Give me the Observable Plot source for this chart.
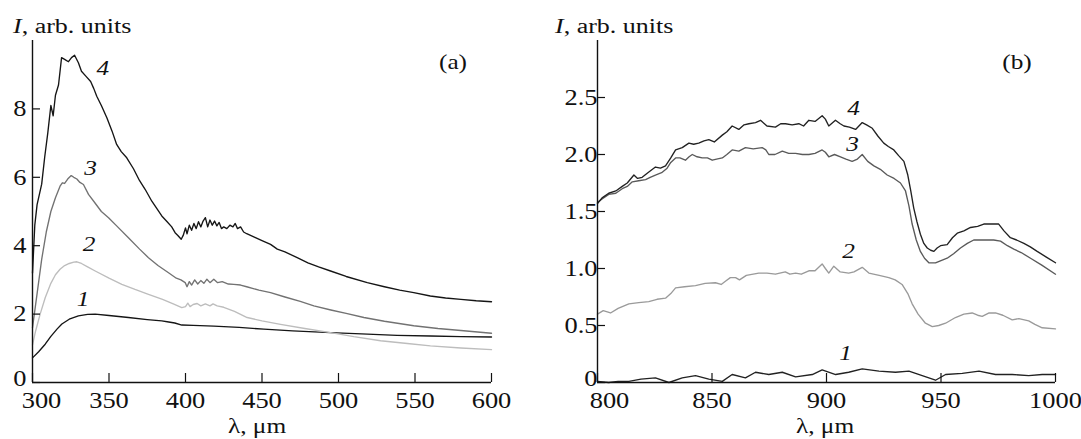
<!DOCTYPE html>
<html><head><meta charset="utf-8">
<script src="https://cdn.jsdelivr.net/npm/d3@7"></script>
<script src="https://cdn.jsdelivr.net/npm/@observablehq/plot@0.6"></script>
<style>
html,body{margin:0;padding:0;background:#fff;}
#wrap{position:relative;width:1081px;height:439px;overflow:hidden;font-family:"Liberation Serif","Times New Roman",serif;color:#111;}
#wrap svg{position:absolute;top:0;}
.abs{position:absolute;white-space:nowrap;line-height:1;}
</style></head><body><div id="wrap"></div>
<script>
// ---------- Panel (a): UV range ----------
const xTicksA = [300, 350, 400, 450, 500, 550, 600];
const yTicksA = [0, 2, 4, 6, 8];
const curveA4 = [[300,3.2],[301.5,4.6],[303,5.2],[306,5.8],[308,6.6],[310,7.3],[312,8.1],[313.5,7.8],[315,8.4],[317,8.7],[319,9.5],[321,9.45],[323.5,9.38],[325.5,9.5],[327.5,9.57],[330,9.35],[332,9.1],[335,8.95],[338,8.8],[340,8.6],[342,8.37],[345,8.1],[348.6,7.74],[352,7.35],[355,6.96],[358,6.75],[361.6,6.57],[366,6.25],[370,5.9],[373.6,5.65],[378,5.3],[384.5,4.87],[388,4.7],[391,4.55],[393.2,4.38],[395,4.3],[397.2,4.19],[398.5,4.3],[400,4.52],[401,4.35],[402.5,4.6],[404,4.45],[405.5,4.65],[407,4.5],[408.5,4.7],[410,4.55],[411.5,4.72],[413,4.82],[414.5,4.55],[416,4.75],[417.5,4.6],[419,4.72],[420.5,4.58],[422,4.68],[423.5,4.5],[425,4.55],[427,4.5],[429,4.6],[431,4.55],[432.5,4.65],[434,4.5],[436,4.55],[438,4.4],[440,4.35],[445,4.25],[450,4.15],[455.6,4.04],[460,3.9],[465,3.82],[473,3.65],[480,3.5],[487,3.38],[494.8,3.26],[505,3.1],[518.8,2.92],[530,2.8],[540,2.7],[549.2,2.63],[560,2.53],[570,2.47],[580,2.43],[590,2.39],[600,2.36]];
const curveA3 = [[300,1.6],[303,2.6],[306,3.6],[309,4.4],[312,5.0],[315,5.4],[318,5.74],[319.5,5.84],[321,5.82],[323,5.95],[325.3,6.05],[327,6.0],[329,5.95],[331,5.85],[333.3,5.79],[336.6,5.5],[340,5.3],[345,5.0],[349.7,4.82],[355,4.58],[362.7,4.23],[370,3.9],[375.8,3.65],[382,3.42],[388.9,3.21],[394,3.05],[397,3.0],[399.8,2.92],[401,2.8],[402.5,2.95],[404,2.85],[406,3.0],[408,2.88],[410,2.98],[412,2.9],[414,3.02],[416,2.92],[418.5,3.02],[421,2.92],[424,2.95],[428,2.88],[431.6,2.87],[436,2.85],[440,2.8],[448,2.7],[455.6,2.63],[465,2.5],[475,2.37],[483.9,2.24],[495,2.12],[505,2.02],[516.6,1.9],[530,1.79],[549.2,1.66],[565,1.58],[580,1.52],[600,1.44]];
const curveA2 = [[300,1.1],[302,1.5],[305,2.0],[308.3,2.48],[312,2.9],[315,3.15],[318,3.31],[321,3.42],[324,3.48],[327,3.52],[329,3.53],[332,3.48],[336,3.38],[341,3.26],[350,3.05],[358.4,2.87],[367,2.72],[375.8,2.58],[385,2.43],[392,2.3],[397.6,2.19],[400,2.22],[401.5,2.32],[403,2.22],[405,2.28],[407.6,2.31],[410,2.24],[413,2.3],[416,2.24],[418,2.3],[420.7,2.24],[425,2.2],[432,2.08],[440.3,1.9],[450,1.8],[462.1,1.7],[478,1.58],[494.8,1.46],[510,1.34],[527.5,1.22],[545,1.14],[560.1,1.07],[580,1.01],[600,0.96]];
const curveA1 = [[300,0.72],[304,0.9],[308.3,1.12],[312,1.35],[316,1.56],[319.2,1.71],[324,1.85],[330,1.95],[336,1.99],[341,2.0],[350,1.96],[362.7,1.9],[375,1.84],[384.5,1.8],[389,1.77],[393,1.74],[397.6,1.68],[405,1.67],[418.5,1.65],[435,1.61],[451.2,1.56],[470,1.51],[494.8,1.46],[515,1.42],[538.3,1.38],[560,1.36],[580,1.34],[600,1.33]];
const labelsA = [{n:"4", x:346, y:9.2},{n:"3", x:338, y:6.27},{n:"2", x:337, y:4.05},{n:"1", x:333, y:2.44}];

// ---------- Panel (b): near-IR range ----------
const xTicksB = [800, 850, 900, 950, 1000];
const yTicksB = [0, 0.5, 1.0, 1.5, 2.0, 2.5];
const curveB4 = [[800,1.57],[802,1.62],[804.9,1.66],[808,1.68],[810.8,1.72],[813,1.75],[815.9,1.82],[817.5,1.79],[819.5,1.80],[822,1.84],[825.3,1.89],[827.5,1.88],[829.7,1.90],[832,1.97],[834.1,2.04],[837,2.06],[839.9,2.10],[842,2.09],[844.2,2.10],[846.5,2.12],[848.6,2.13],[851,2.11],[854.5,2.17],[856.5,2.2],[858.8,2.25],[861.7,2.22],[864,2.26],[866.1,2.27],[869,2.28],[871.2,2.30],[874,2.25],[877.7,2.24],[880,2.27],[882.1,2.27],[885,2.26],[887.9,2.27],[890,2.25],[892.3,2.30],[895,2.29],[898.1,2.34],[899.5,2.31],[901,2.25],[903.9,2.30],[906,2.27],[907.6,2.25],[910,2.24],[912.7,2.22],[915.6,2.28],[917.5,2.26],[920,2.23],[922.5,2.16],[925,2.10],[927,2.07],[929.4,2.04],[931.5,1.99],[933.8,1.94],[935.5,1.82],[936.8,1.68],[938.1,1.53],[939.5,1.41],[941,1.30],[942.5,1.22],[944,1.18],[945.5,1.16],[946.9,1.15],[948.3,1.18],[949.8,1.20],[952.7,1.21],[955,1.27],[957.1,1.31],[960,1.33],[962.9,1.36],[966,1.37],[968.7,1.39],[972,1.39],[975.2,1.39],[977.5,1.33],[980.3,1.27],[983,1.25],[986.2,1.22],[989,1.19],[992,1.15],[996,1.10],[1000,1.05]];
const curveB3 = [[800,1.58],[802,1.61],[804.9,1.65],[808,1.66],[810.8,1.70],[813,1.72],[815.2,1.76],[818,1.77],[821,1.78],[823,1.80],[825.3,1.82],[828,1.84],[830.4,1.88],[832,1.93],[834.1,1.97],[836,1.97],[838.4,1.95],[840,1.98],[841.4,2.00],[843.5,1.98],[845.7,1.97],[848,1.97],[850.1,1.95],[852,1.96],[854.5,1.97],[856.5,2.0],[858.8,2.04],[861.7,2.03],[864.6,2.06],[868,2.05],[871.9,2.06],[873.5,2.04],[874.8,2.00],[877.5,2.00],[880.7,2.03],[883.5,2.01],[886.5,2.01],[889.5,2.00],[892.3,2.00],[895,2.01],[898.1,2.04],[899.5,2.02],[901,1.98],[903.5,2.00],[906.1,1.98],[908.5,1.96],[911.2,1.94],[913.5,1.96],[915.6,2.00],[918,1.94],[920.7,1.90],[923.5,1.87],[926.5,1.82],[929.5,1.79],[932.3,1.75],[934.5,1.68],[936,1.55],[937.4,1.39],[939.2,1.25],[941,1.15],[942.8,1.09],[944.7,1.05],[947.6,1.05],[950,1.07],[952.7,1.09],[955.5,1.13],[958.5,1.18],[961.5,1.22],[964.3,1.25],[967,1.25],[970.2,1.25],[973,1.25],[976,1.24],[979,1.20],[981.8,1.17],[985,1.14],[989.1,1.09],[994,1.03],[1000,0.95]];
const curveB2 = [[800,0.60],[802.5,0.63],[805.7,0.61],[809,0.65],[813.7,0.69],[818,0.70],[822.4,0.71],[826,0.73],[829.7,0.74],[832,0.78],[834.1,0.83],[838,0.84],[842.8,0.85],[847,0.87],[851.5,0.875],[854,0.86],[856,0.89],[858,0.92],[860.3,0.92],[862,0.90],[865,0.94],[870.4,0.96],[874,0.96],[877.7,0.95],[882,0.97],[884,0.95],[886.5,0.96],[889,0.95],[892.3,0.98],[895,0.98],[898.1,1.04],[899.5,1.00],[901,0.96],[903.2,1.02],[906,0.97],[909.7,0.96],[912,0.97],[915.6,1.01],[918.5,0.96],[923,0.94],[927.2,0.92],[930,0.90],[933,0.86],[935.5,0.78],[937.4,0.69],[940,0.60],[943.2,0.52],[946.2,0.49],[949,0.50],[952,0.52],[956.3,0.57],[960,0.60],[963.6,0.61],[966,0.59],[968,0.58],[971,0.61],[973.8,0.61],[977,0.59],[981.1,0.55],[984,0.56],[988.3,0.54],[991,0.51],[994.2,0.48],[1000,0.47]];
const curveB1 = [[800,0.01],[804.9,0.0],[809,0.01],[813.7,0.01],[819,0.03],[825.3,0.04],[831.2,0.0],[837,0.04],[842.8,0.06],[848.6,0.03],[854.5,0.01],[858.8,0.07],[864.6,0.04],[869,0.09],[874.8,0.07],[880.7,0.09],[886.5,0.05],[893.8,0.07],[898.1,0.11],[904,0.07],[909.7,0.09],[915.6,0.12],[922.9,0.10],[930.1,0.09],[936,0.10],[941.8,0.06],[947.6,0.02],[952,0.07],[959.3,0.08],[966.6,0.10],[973.8,0.07],[981.1,0.07],[988.3,0.06],[994.2,0.07],[1000,0.07]];
const labelsB = [{n:"4", x:911.8, y:2.41},{n:"3", x:911.4, y:2.09},{n:"2", x:909.6, y:1.15},{n:"1", x:908.3, y:0.26}];

// ---------- styling (kept separate from data) ----------
const colorsA = {"1":"#151515","2":"#bdbdbd","3":"#727272","4":"#151515"};
const colorsB = {"1":"#222","2":"#9a9a9a","3":"#5a5a5a","4":"#222"};
const H = 439, TOP = 40, BOTTOM = 57, STRETCH = 1.15;

function panel({curves, colors, xDomain, yDomain, xTicks, yTicks, yFmt, labels, width, marginLeft, marginRight, yPad, firstDx}) {
  const plotH = H - TOP - BOTTOM, plotW = width - marginLeft - marginRight;
  const ink = "#111";
  const marks = [];
  for (const [id, pts] of curves) {
    marks.push(Plot.line(pts, {x: d => d[0], y: d => d[1], stroke: colors[id], strokeWidth: 1.35}));
  }
  marks.push(Plot.ruleY([yDomain[0]], {stroke: ink, strokeWidth: 1.4}));
  marks.push(Plot.ruleX([xDomain[0]], {stroke: ink, strokeWidth: 1.4}));
  marks.push(Plot.ruleX(xTicks, {insetTop: plotH - 9, stroke: ink, strokeWidth: 1.2}));
  marks.push(Plot.ruleY(yTicks, {insetRight: plotW - 8, stroke: ink, strokeWidth: 1.2}));
  marks.push(Plot.axisX(xTicks.slice(0, 1), {tickSize: 0, tickPadding: 9, dx: firstDx, label: null, tickFormat: d => String(d)}));
  marks.push(Plot.axisX(xTicks.slice(1), {tickSize: 0, tickPadding: 9, label: null, tickFormat: d => String(d)}));
  marks.push(Plot.axisY(yTicks.slice(0, 1), {tickSize: 0, tickPadding: yPad, dy: -4, label: null, tickFormat: yFmt}));
  marks.push(Plot.axisY(yTicks.slice(1), {tickSize: 0, tickPadding: yPad, label: null, tickFormat: yFmt}));
  marks.push(Plot.text(labels, {x: "x", y: "y", text: "n", fontStyle: "italic", fontSize: 22, fill: ink}));
  const svg = Plot.plot({
    width, height: H, marginTop: TOP, marginBottom: BOTTOM, marginLeft, marginRight,
    x: {domain: xDomain}, y: {domain: yDomain},
    style: {fontFamily: '"Liberation Serif", "Times New Roman", serif', fontSize: "23px", color: ink, background: "transparent", overflow: "visible"},
    marks
  });
  svg.querySelectorAll("text").forEach(t => {
    const tr = t.getAttribute("transform");
    if (tr && tr.includes("translate")) t.setAttribute("transform", tr + ` scale(${STRETCH},1)`);
  });
  return svg;
}

const wrap = document.getElementById("wrap");
const svgA = panel({
  curves: [["1", curveA1], ["2", curveA2], ["3", curveA3], ["4", curveA4]],
  colors: colorsA, xDomain: [300, 600], yDomain: [0, 10],
  xTicks: xTicksA, yTicks: yTicksA, yFmt: d => String(d), labels: labelsA,
  width: 540, marginLeft: 32, marginRight: 49, yPad: 6, firstDx: 9
});
svgA.style.left = "0px";
const svgB = panel({
  curves: [["1", curveB1], ["2", curveB2], ["3", curveB3], ["4", curveB4]],
  colors: colorsB, xDomain: [800, 1000], yDomain: [0, 3],
  xTicks: xTicksB, yTicks: yTicksB, yFmt: d => d === 0 ? "0" : d.toFixed(1), labels: labelsB,
  width: 541, marginLeft: 57, marginRight: 26, yPad: 0, firstDx: 12
});
svgB.style.left = "540px";
wrap.appendChild(svgA);
wrap.appendChild(svgB);

// ---------- titles and axis captions ----------
function addText(html, {left, top, size, origin = "left", center = false, stretch = STRETCH}) {
  const d = document.createElement("div");
  d.className = "abs";
  d.innerHTML = html;
  d.style.left = left + "px";
  d.style.top = top + "px";
  d.style.fontSize = size + "px";
  d.style.transformOrigin = origin;
  d.style.transform = (center ? "translateX(-50%) " : "") + `scaleX(${stretch})`;
  wrap.appendChild(d);
}
const yTitle = "<i>I</i>, arb. units";
const xTitle = "λ, μm";
addText(yTitle, {left: 13, top: 16.3, size: 20, stretch: 1.3});
addText(yTitle, {left: 555, top: 16.3, size: 20, stretch: 1.3});
addText("(a)", {left: 453, top: 50.6, size: 22, center: true, origin: "center"});
addText("(b)", {left: 1017, top: 50.6, size: 22, center: true, origin: "center"});
addText(xTitle, {left: 257, top: 414.6, size: 22, center: true, origin: "center"});
addText(xTitle, {left: 825, top: 414.6, size: 22, center: true, origin: "center"});
</script></body></html>
